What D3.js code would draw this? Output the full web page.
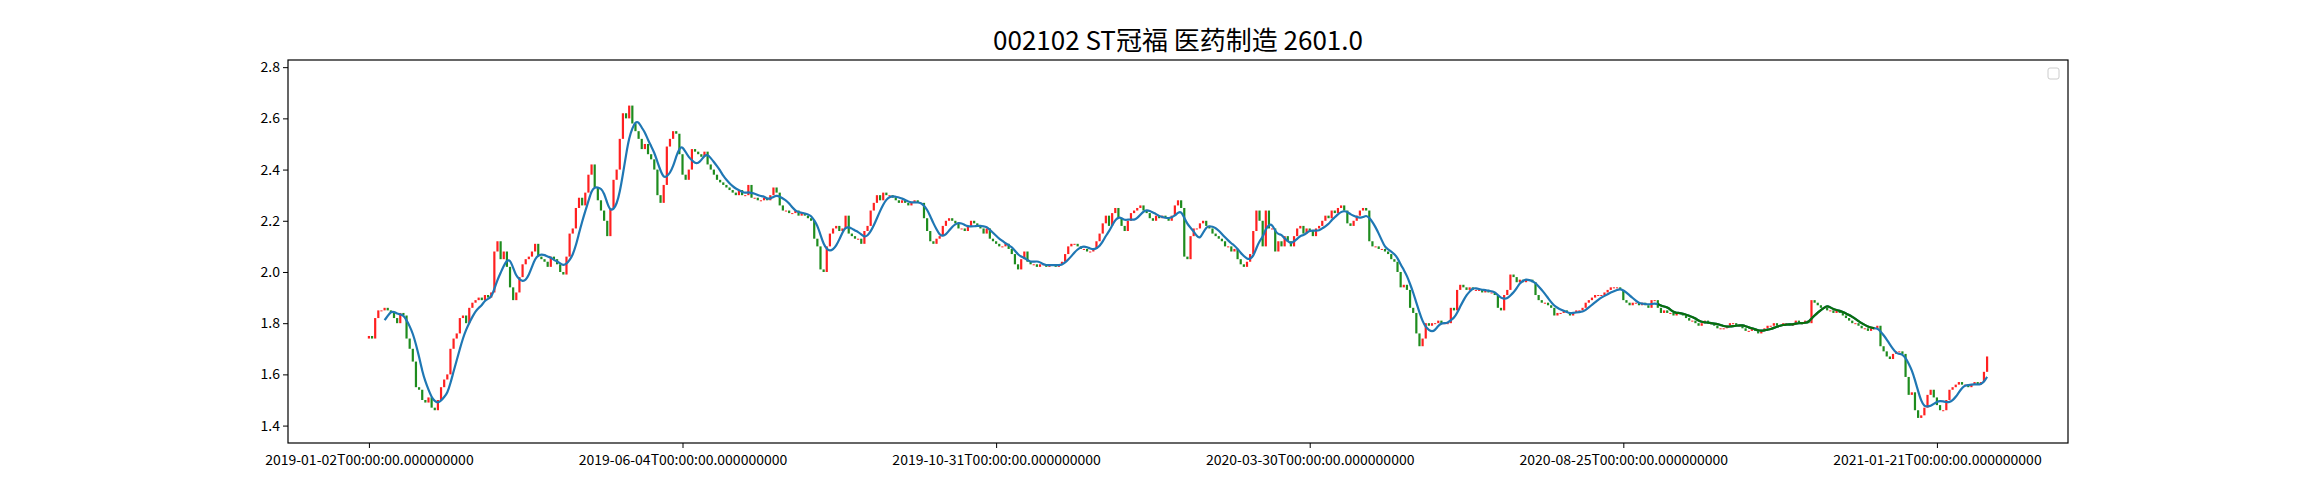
<!DOCTYPE html>
<html>
<head>
<meta charset="utf-8">
<script src="https://cdn.jsdelivr.net/npm/d3@7"></script>
<style>
body { margin: 0; background: #fff; }
svg text { font-family: "Noto Sans CJK SC", "DejaVu Sans", sans-serif; }
</style>
</head>
<body>
<svg id="chart" width="2300" height="500"></svg>
<script>
const title = "002102 ST冠福 医药制造 2601.0";

// daily closes, one per trading day
const closes = [
  1.75,1.74,1.82,1.85,1.85,1.86,1.85,1.84,1.82,1.80,
  1.84,1.83,1.74,1.70,1.65,1.55,1.54,1.50,1.49,1.51,
  1.47,1.46,1.50,1.55,1.58,1.60,1.70,1.74,1.76,1.82,
  1.83,1.80,1.86,1.88,1.89,1.90,1.89,1.91,1.90,1.92,
  2.08,2.12,2.05,2.08,2.02,1.94,1.89,1.92,1.98,2.03,
  2.05,2.06,2.08,2.11,2.06,2.05,2.04,2.02,2.06,2.05,
  2.03,2.00,1.99,2.06,2.15,2.17,2.25,2.29,2.26,2.31,
  2.38,2.42,2.33,2.28,2.24,2.20,2.14,2.25,2.36,2.40,
  2.52,2.62,2.60,2.65,2.58,2.55,2.52,2.48,2.50,2.46,
  2.44,2.40,2.30,2.27,2.34,2.49,2.52,2.55,2.54,2.46,
  2.38,2.36,2.40,2.48,2.47,2.46,2.45,2.47,2.42,2.40,
  2.38,2.36,2.35,2.34,2.33,2.32,2.31,2.30,2.32,2.30,
  2.30,2.34,2.29,2.29,2.28,2.28,2.29,2.28,2.30,2.33,
  2.31,2.26,2.24,2.24,2.23,2.23,2.24,2.22,2.23,2.22,
  2.21,2.20,2.13,2.10,2.01,2.00,2.10,2.15,2.17,2.18,
  2.16,2.17,2.22,2.15,2.14,2.13,2.13,2.11,2.16,2.18,
  2.24,2.27,2.30,2.28,2.31,2.30,2.30,2.29,2.28,2.27,
  2.28,2.27,2.26,2.27,2.28,2.27,2.27,2.21,2.16,2.12,
  2.11,2.13,2.14,2.18,2.20,2.21,2.20,2.19,2.17,2.17,
  2.16,2.18,2.20,2.19,2.18,2.17,2.15,2.17,2.13,2.12,
  2.11,2.10,2.10,2.11,2.09,2.07,2.03,2.01,2.05,2.08,
  2.04,2.03,2.03,2.02,2.03,2.03,2.02,2.03,2.03,2.02,
  2.03,2.04,2.07,2.10,2.11,2.11,2.10,2.09,2.09,2.08,
  2.08,2.09,2.12,2.15,2.19,2.22,2.18,2.23,2.25,2.21,
  2.18,2.16,2.20,2.23,2.24,2.25,2.26,2.24,2.23,2.21,
  2.20,2.22,2.21,2.22,2.21,2.20,2.22,2.26,2.28,2.25,
  2.06,2.05,2.14,2.17,2.17,2.19,2.20,2.18,2.17,2.15,
  2.14,2.13,2.12,2.10,2.10,2.08,2.09,2.05,2.03,2.02,
  2.04,2.07,2.16,2.24,2.20,2.10,2.24,2.17,2.17,2.08,
  2.12,2.10,2.14,2.12,2.10,2.14,2.17,2.18,2.15,2.17,
  2.16,2.14,2.17,2.18,2.20,2.22,2.21,2.24,2.23,2.25,
  2.26,2.24,2.19,2.18,2.20,2.22,2.24,2.25,2.24,2.12,
  2.10,2.10,2.09,2.09,2.08,2.07,2.05,2.04,2.00,1.94,
  1.95,1.93,1.86,1.84,1.76,1.71,1.74,1.80,1.79,1.80,
  1.80,1.81,1.80,1.80,1.80,1.86,1.85,1.93,1.95,1.94,
  1.93,1.94,1.93,1.93,1.93,1.92,1.93,1.92,1.92,1.91,
  1.86,1.85,1.91,1.93,1.99,1.98,1.96,1.97,1.96,1.97,
  1.97,1.96,1.91,1.89,1.88,1.88,1.87,1.86,1.83,1.84,
  1.84,1.85,1.84,1.83,1.84,1.85,1.85,1.86,1.88,1.89,
  1.90,1.91,1.91,1.91,1.92,1.93,1.94,1.94,1.94,1.93,
  1.89,1.88,1.87,1.88,1.88,1.87,1.88,1.87,1.86,1.89,
  1.89,1.86,1.84,1.85,1.84,1.84,1.83,1.84,1.84,1.83,
  1.82,1.81,1.81,1.80,1.79,1.80,1.81,1.80,1.80,1.79,
  1.78,1.78,1.78,1.79,1.80,1.80,1.79,1.79,1.78,1.77,
  1.77,1.78,1.77,1.76,1.77,1.78,1.79,1.79,1.80,1.79,
  1.79,1.80,1.80,1.79,1.80,1.81,1.80,1.80,1.81,1.80,
  1.89,1.88,1.87,1.86,1.86,1.85,1.85,1.84,1.85,1.84,
  1.83,1.82,1.81,1.80,1.80,1.79,1.78,1.78,1.77,1.78,
  1.78,1.79,1.71,1.69,1.67,1.66,1.68,1.69,1.69,1.68,
  1.59,1.52,1.53,1.46,1.43,1.44,1.47,1.52,1.54,1.51,
  1.48,1.46,1.46,1.50,1.54,1.55,1.56,1.57,1.56,1.56,
  1.55,1.56,1.57,1.56,1.57,1.61,1.67
];
const firstOpen = 1.74;
const lastOpen = 1.61;
// extreme wick values (highest high, lowest low)
const priceHigh = 2.76;
const priceLow = 1.40;

const tickIndex = [0, 100, 200, 300, 400, 500];
const tickLabels = [
  "2019-01-02T00:00:00.000000000",
  "2019-06-04T00:00:00.000000000",
  "2019-10-31T00:00:00.000000000",
  "2020-03-30T00:00:00.000000000",
  "2020-08-25T00:00:00.000000000",
  "2021-01-21T00:00:00.000000000"
];
const yTicks = [1.4, 1.6, 1.8, 2.0, 2.2, 2.4, 2.6, 2.8];
const greenSpan = [411, 480]; // part of the average drawn in green
const maWindow = 6;

const margin = { top: 60, right: 232, bottom: 57, left: 288 };
const width = 2300, height = 500;

const svg = d3.select("#chart");

const data = closes.map((c, i) => {
  let o = i === 0 ? firstOpen : closes[i - 1];
  if (i === closes.length - 1) o = lastOpen;
  return { i, o, c };
});

const n = data.length;
const pad = (n - 1) * 0.05;
const x = d3.scaleLinear()
  .domain([-pad, n - 1 + pad])
  .range([margin.left, width - margin.right]);

const ypad = (priceHigh - priceLow) * 0.05;
const y = d3.scaleLinear()
  .domain([priceLow - ypad, priceHigh + ypad])
  .range([height - margin.bottom, margin.top]);

// moving average
const ma = data.map((d, i) => {
  if (i < maWindow - 1) return null;
  return { i, v: d3.mean(closes.slice(i - maWindow + 1, i + 1)) };
}).filter(d => d);

const bw = (x(1) - x(0)) * 0.7;
svg.append("g")
  .selectAll("rect")
  .data(data)
  .join("rect")
  .attr("x", d => x(d.i) - bw / 2)
  .attr("width", bw)
  .attr("y", d => y(Math.max(d.o, d.c)))
  .attr("height", d => Math.max(1, Math.abs(y(d.o) - y(d.c))))
  .attr("fill", d => d.c >= d.o ? "#ff2020" : "#1e8c1e");

const line = d3.line()
  .x(d => x(d.i))
  .y(d => y(d.v))
  .curve(d3.curveBasis);

svg.append("path")
  .datum(ma)
  .attr("d", line)
  .attr("fill", "none")
  .attr("stroke", "#1f77b4")
  .attr("stroke-width", 2.2);

svg.append("path")
  .datum(ma.filter(d => d.i >= greenSpan[0] && d.i <= greenSpan[1]))
  .attr("d", line)
  .attr("fill", "none")
  .attr("stroke", "#0a6e0a")
  .attr("stroke-width", 2.2);

// axes
const xAxis = d3.axisBottom(x)
  .tickValues(tickIndex)
  .tickFormat((d, k) => tickLabels[k])
  .tickSizeOuter(0)
  .tickSize(5);
const gx = svg.append("g")
  .attr("transform", `translate(0,${height - margin.bottom})`)
  .call(xAxis);
gx.selectAll("text").attr("font-size", 14).attr("fill", "#000").attr("dy", "1em");

const yAxis = d3.axisLeft(y)
  .tickValues(yTicks)
  .tickFormat(d3.format(".1f"))
  .tickSizeOuter(0)
  .tickSize(5);
const gy = svg.append("g")
  .attr("transform", `translate(${margin.left},0)`)
  .call(yAxis);
gy.selectAll("text").attr("font-size", 14).attr("fill", "#000");
svg.selectAll(".domain").remove();

svg.append("rect")
  .attr("x", margin.left).attr("y", margin.top)
  .attr("width", width - margin.left - margin.right)
  .attr("height", height - margin.top - margin.bottom)
  .attr("fill", "none").attr("stroke", "#000").attr("stroke-width", 1.2);

// empty legend box
svg.append("rect")
  .attr("x", width - margin.right - 20).attr("y", margin.top + 8)
  .attr("width", 11).attr("height", 11).attr("rx", 2)
  .attr("fill", "#fff").attr("stroke", "#ccc");

svg.append("text")
  .attr("x", (margin.left + width - margin.right) / 2)
  .attr("y", 50)
  .attr("text-anchor", "middle")
  .attr("font-size", 26)
  .text(title);
</script>
</body>
</html>
